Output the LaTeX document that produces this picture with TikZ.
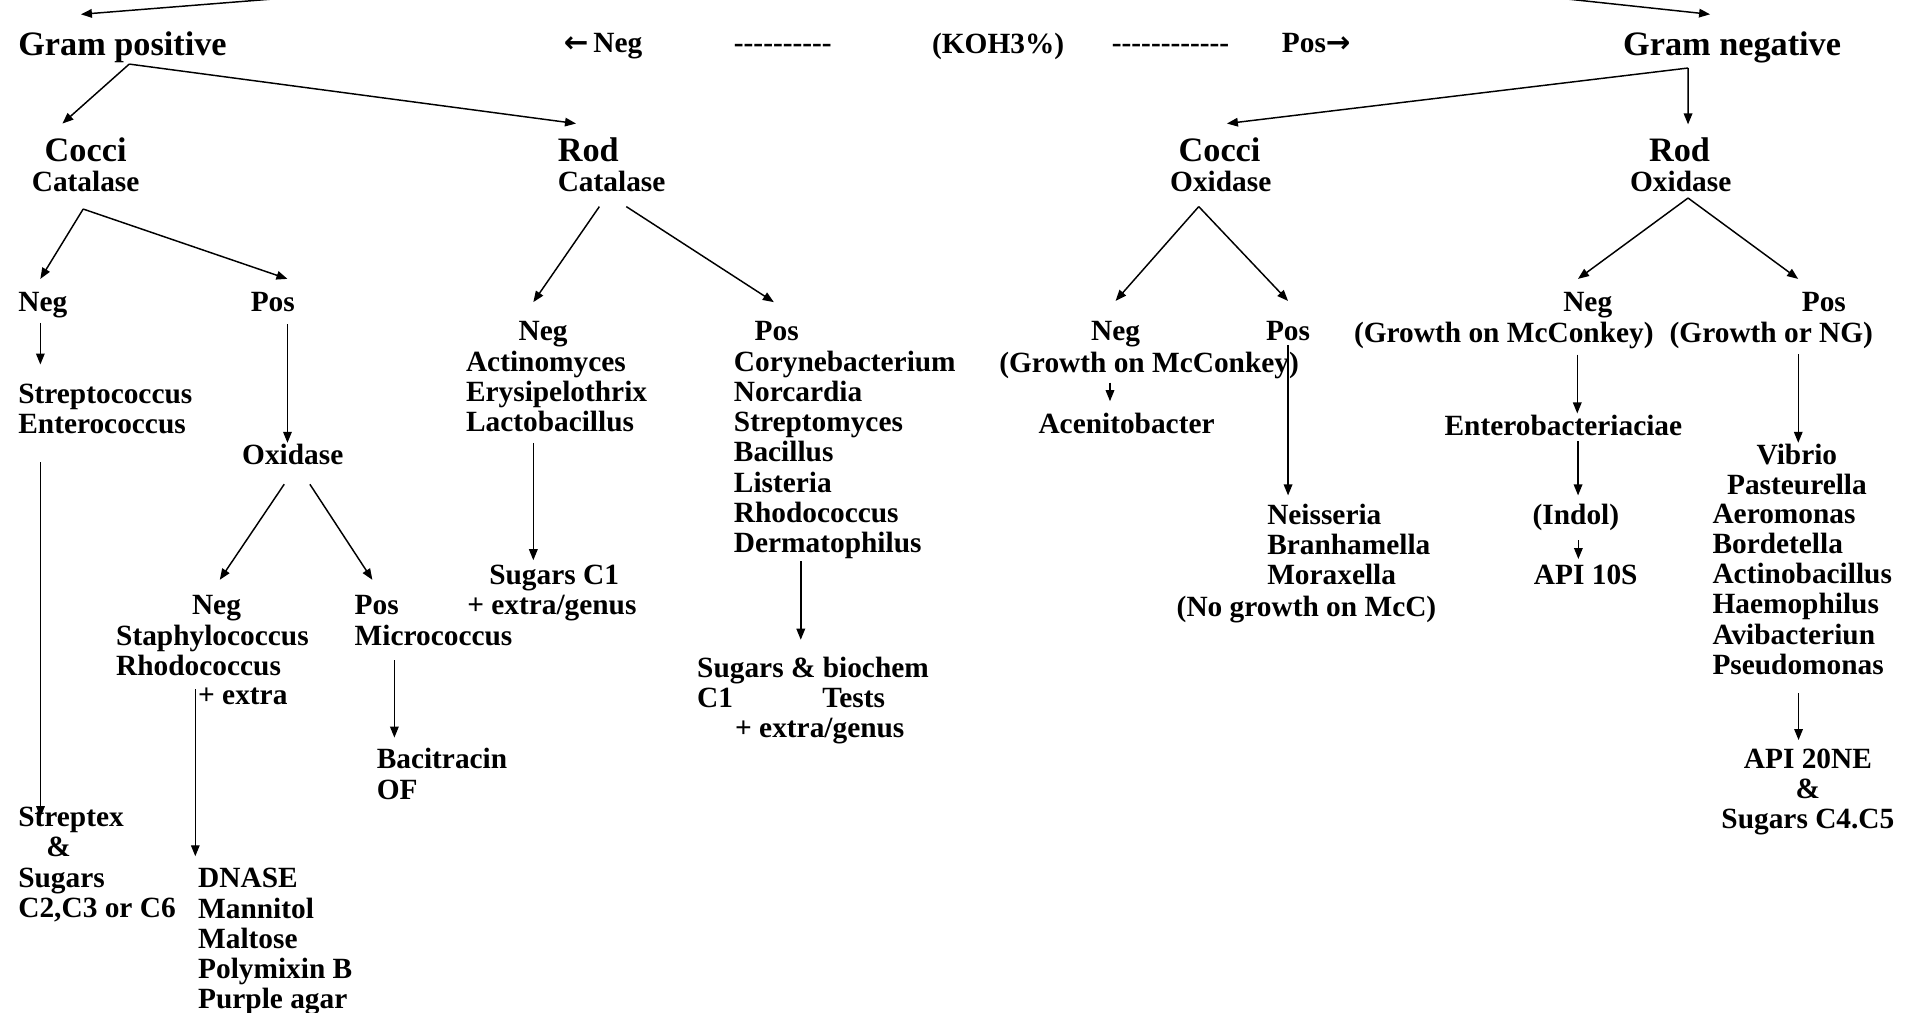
\documentclass[tikz,border=0pt]{standalone}
\usepackage{fontspec}
\setmainfont{Liberation Serif}
\newfontfamily\arrfont{DejaVu Sans}
\usetikzlibrary{arrows.meta,calc}
\newcommand\hy{\mbox{-}}
\tikzset{
  lbl/.style={inner sep=0pt, outer sep=0pt, align=left, anchor=north west,
    font=\fontsize{24}{24.7}\selectfont\bfseries, text=black},
  lblc/.style={lbl, align=center, anchor=north},
  head/.style={lbl, font=\fontsize{28}{30}\selectfont\bfseries},
  headc/.style={head, align=center, anchor=north},
  arr/.style={draw=black, line width=1.2pt, -{Triangle[length=9pt,width=7pt]}},
}
\begin{document}
\begin{tikzpicture}[x=1pt,y=-1pt]
\useasboundingbox[fill=white] (0,0) rectangle (1568,828);

% top row
\node[head] (gp) at (15,25.7) {Gram positive};
\node[lbl, anchor=base west] (negK) at (461,43) {{\arrfont\bfseries ←}\,Neg};
\node[lbl, anchor=base west] (dash1) at (600,43) {\hy\hy\hy\hy\hy\hy\hy\hy\hy\hy};
\node[lbl] (koh) at (762,27) {(KOH3\%)};
\node[lbl, anchor=base west] (dash2) at (909,43) {\hy\hy\hy\hy\hy\hy\hy\hy\hy\hy\hy\hy};
\node[lbl, anchor=base west] (posK) at (1048,43) {Pos{\arrfont\bfseries →}};
\node[head] (gn) at (1327,25.7) {Gram negative};

% second level
\node[headc] (cocci) at (70,112.7) {Cocci};
\node[lblc] (cocciCat) at (70,140) {Catalase};
\node[head] (rod) at (456,112.7) {Rod};
\node[lbl] (rodCat) at (456,140) {Catalase};
\node[headc] (coccin) at (997,112.7) {Cocci};
\node[lblc] (coccinOx) at (998,140) {Oxidase};
\node[headc] (rodn) at (1373,112.7) {Rod};
\node[lblc] (rodnOx) at (1374,140) {Oxidase};

% third level
\node[lbl] (neg1) at (15,239) {Neg};
\node[lbl] (pos1) at (205,239) {Pos};
\node[lbl] (rneg) at (381,263) {\hspace*{43pt}Neg\\Actinomyces\\Erysipelothrix\\Lactobacillus};
\node[lbl] (rpos) at (600,263) {\hspace*{17pt}Pos\\Corynebacterium\\Norcardia\\Streptomyces\\Bacillus\\Listeria\\Rhodococcus\\Dermatophilus};
\node[lbl] (cneg) at (892,263) {Neg};
\node[lbl] (cnegG) at (817,288) {(Growth on McConkey)};
\node[lbl] (cpos) at (1035,263) {Pos};
\node[lbl] (acin) at (849,338) {Acenitobacter};
\node[lbl] (rnegn) at (1278,239) {Neg};
\node[lbl] (rnegnG) at (1107,263) {(Growth on McConkey)};
\node[lbl] (rposn) at (1473,239) {Pos};
\node[lbl] (rposnG) at (1365,263) {(Growth or NG)};

% lower levels
\node[lbl] (strep) at (15,314) {Streptococcus\\Enterococcus};
\node[lbl] (oxi) at (198,363) {Oxidase};
\node[lbl] (sneg) at (95,487) {\hspace*{62pt}Neg\\Staphylococcus\\Rhodococcus};
\node[lbl] (extra) at (162,562) {+ extra};
\node[lbl] (spos) at (290,487) {Pos\\Micrococcus};
\node[lbl] (baci) at (308,612) {Bacitracin\\OF};
\node[lbl] (strx) at (15,660) {Streptex\\\hspace*{23pt}\&\\Sugars\\C2,C3 or C6};
\node[lbl] (dnase) at (162,710) {DNASE\\Mannitol\\Maltose\\Polymixin B\\Purple agar};
\node[lbl] (sug1) at (382,462) {\hspace*{18pt}Sugars C1\\+ extra/genus};
\node[lbl] (sugb) at (570,537) {Sugars \& biochem\\C1\hspace*{73pt}Tests\\\hspace*{31pt}+ extra/genus};
\node[lbl] (neis) at (1036,412) {Neisseria\\Branhamella\\Moraxella};
\node[lbl] (nogr) at (962,487) {(No growth on McC)};
\node[lbl] (entero) at (1181,339) {Enterobacteriaciae};
\node[lbl] (indol) at (1253,412) {(Indol)};
\node[lbl] (api10) at (1254,462) {API 10S};
\node[lblc] (vib) at (1469,363) {Vibrio\\Pasteurella};
\node[lbl] (gnlist) at (1400,412) {Aeromonas\\Bordetella\\Actinobacillus\\Haemophilus\\Avibacteriun\\Pseudomonas};
\node[lblc] (api20) at (1478,612) {API 20NE\\\&\\Sugars C4.C5};

% branch points and free ends
\coordinate (tl) at (238,-2);
\coordinate (tr) at (1270,-2);
\coordinate (gpA) at ($(gp.south)+(5.5,1.3)$);
\coordinate (gnA) at ($(gn.south)+(-36,4.3)$);
\coordinate (ccA) at ($(cocciCat.south)+(-2,14)$);
\coordinate (rcA1) at ($(rodCat.south)+(-10,12)$);
\coordinate (rcA2) at ($(rodCat.south)+(12,12)$);
\coordinate (coA) at ($(coccinOx.south)+(-18,12)$);
\coordinate (roA) at ($(rodnOx.south)+(6,5)$);
\coordinate (oxA1) at ($(oxi.south)+(-7,16)$);
\coordinate (oxA2) at ($(oxi.south)+(14,16)$);

% top arrows
\draw[arr] (tl) -- ($(gp.north)+(-34,-14)$);
\draw[arr] (tr) -- ($(gn.north)+(-18,-14)$);
% gram branches
\draw[arr] (gpA) -- ($(cocci.north)+(-19,-11.7)$);
\draw[arr] (gpA) -- ($(rod.north)+(-10,-11.7)$);
\draw[arr] (gnA) -- ($(coccin.north)+(6,-11.7)$);
\draw[arr] (gnA) -- ($(rodn.north)+(7,-11)$);
% catalase / oxidase branches
\draw[arr] (ccA) -- ($(neg1.north)+(-2,-11)$);
\draw[arr] (ccA) -- ($(pos1.north)+(12,-11)$);
\draw[arr] (rcA1) -- ($(rneg.north)+(-19,-16)$);
\draw[arr] (rcA2) -- ($(rpos.north)+(-58,-16)$);
\draw[arr] (coA) -- ($(cneg.north)+(0,-17)$);
\draw[arr] (coA) -- ($(cpos.north)+(0,-17)$);
\draw[arr] (roA) -- ($(rnegn.north)+(-8,-11)$);
\draw[arr] (roA) -- ($(rposn.north)+(-21,-11)$);
\draw[arr] (oxA1) -- ($(sneg.north)+(6,-13)$);
\draw[arr] (oxA2) -- ($(spos.north)+(-50,-13)$);

% vertical arrows
\draw[arr] ($(neg1.south)+(-2,4)$) -- ($(neg1.south |- strep.north)+(-2,-16)$);
\draw[arr] ($(pos1.south)+(12,10)$) -- ($(pos1.south |- oxi.north)+(12,-1)$);
\draw[arr] ($(strep.south)+(-53,23)$) -- ($(strep.south |- strx.north)+(-53,8)$);
\draw[arr] ($(sneg.south)+(-14,11)$) -- ($(sneg.south |- dnase.north)+(-14,-10)$);
\draw[arr] ($(spos.south)+(-32,12)$) -- ($(spos.south |- baci.north)+(-32,-9)$);
\draw[arr] ($(rneg.south)+(-19,9)$) -- ($(rneg.south |- sug1.north)+(-19,-4)$);
\draw[arr] ($(rpos.south)+(-36,2)$) -- ($(rpos.south |- sugb.north)+(-36,-14)$);
\draw[arr] ($(cnegG.south)+(-32,3)$) -- ($(cnegG.south |- acin.north)+(-32,-10)$);
\draw[arr] ($(cpos.south)+(0,3)$) -- ($(cpos.south |- neis.north)+(0,-7)$);
\draw[arr] ($(rnegnG.south)+(60,5)$) -- ($(rnegnG.south |- entero.north)+(60,-1)$);
\draw[arr] ($(entero.south)+(12,5)$) -- ($(entero.south |- indol.north)+(12,-7)$);
\draw[arr] ($(indol.south)+(2,8)$) -- ($(indol.south |- api10.north)+(2,-5)$);
\draw[arr] ($(rposnG.south)+(22,5)$) -- ($(rposnG.south |- vib.north)+(22,-1)$);
\draw[arr] ($(gnlist.south)+(-3,15)$) -- ($(gnlist.south |- api20.north)+(-3,-7)$);
\end{tikzpicture}
\end{document}
